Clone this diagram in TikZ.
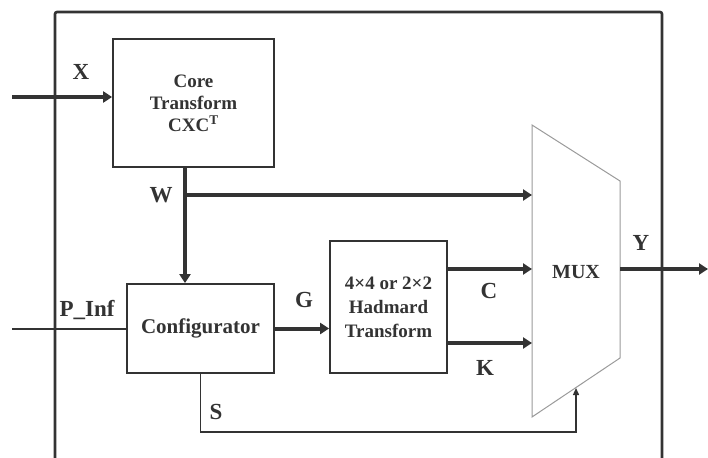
\documentclass[tikz,border=0pt]{standalone}
\usepackage{fontspec}
\setmainfont{Liberation Serif}
\usetikzlibrary{arrows.meta}
\definecolor{ink}{HTML}{333333}
\definecolor{muxgray}{HTML}{9A9A9A}
\tikzset{
  blockbox/.style={draw=ink, line width=1.8pt, fill=white, inner sep=0pt, align=center, text=ink,
    font=\fontsize{19}{22}\selectfont\bfseries},
  bus/.style={draw=ink, line width=4pt, -{Triangle[length=9pt,width=11pt]}},
  wire/.style={draw=ink, line width=1.4pt},
  sig/.style={text=ink, font=\fontsize{23}{26}\selectfont\bfseries, inner sep=0pt},
  frameline/.style={draw=ink, line width=2.6pt, rounded corners=2pt}
}
\begin{document}
\begin{tikzpicture}[x=1pt,y=-1pt]
\useasboundingbox (0,0) rectangle (708,457);
% outer frame
\coordinate (fbl) at (55,460);
\coordinate (ftl) at (55,12);
\coordinate (ftr) at (662,12);
\coordinate (fbr) at (662,460);
\draw[frameline] (fbl) -- (ftl) -- (ftr) -- (fbr);

% blocks
\node[blockbox, minimum width=161pt, minimum height=128pt] (core) at (193.5,103)
  {Core\\Transform\\CXC\textsuperscript{T}};
\node[blockbox, minimum width=147pt, minimum height=89pt, font=\fontsize{21}{24}\selectfont\bfseries] (config) at (200.5,328.5)
  {Configurator};
\node[blockbox, minimum width=117pt, minimum height=132pt, font=\fontsize{19}{24}\selectfont\bfseries] (had) at (388.5,307)
  {4×4 or 2×2\\Hadmard\\Transform};

% MUX trapezoid
\coordinate (mtl) at (532,125);
\coordinate (mtr) at (620,181);
\coordinate (mbr) at (620,358);
\coordinate (mbl) at (532,417);
\draw[muxgray, line width=1pt] (mtl) -- (mtr) -- (mbr) -- (mbl) -- cycle;
\node[text=ink, font=\fontsize{20}{22}\selectfont\bfseries, inner sep=0pt] (mux) at (576,272) {MUX};

% input X
\coordinate (xin) at (12,97);
\draw[bus] (xin) -- (xin -| core.west);
% W
\coordinate (wtop) at (185,167);
\coordinate (wj) at (185,195);
\coordinate (muxw) at (532,195);
\draw[bus] (wtop) -- (wtop |- config.north);
\draw[bus] (wj) -- (muxw);
% P_Inf
\coordinate (pin) at (12,329);
\draw[wire] (pin) -- (pin -| config.west);
% G
\draw[bus] (config.east) -- (config.east -| had.west);
% C, K
\coordinate (hc) at (447,269);
\coordinate (muxc) at (532,269);
\coordinate (hk) at (447,343);
\coordinate (muxk) at (532,343);
\draw[bus] (hc) -- (muxc);
\draw[bus] (hk) -- (muxk);
% Y
\coordinate (muxy) at (620,269);
\coordinate (yout) at (708,269);
\draw[bus] (muxy) -- (yout);
% S
\coordinate (sc) at (576,432);
\coordinate (ssel) at (576,388);
\draw[wire, -{Triangle[length=7pt,width=6pt]}] (config.south) |- (sc) -- (ssel);

% labels
\node[sig] (lx) at (81,72) {X};
\node[sig] (lw) at (161,195) {W};
\node[sig] (lp) at (87,310) {P\_Inf};
\node[sig] (lg) at (304,300) {G};
\node[sig] (lc) at (489,291) {C};
\node[sig] (lk) at (485,368) {K};
\node[sig] (ly) at (641,243) {Y};
\node[sig] (ls) at (216,412) {S};
\end{tikzpicture}
\end{document}
